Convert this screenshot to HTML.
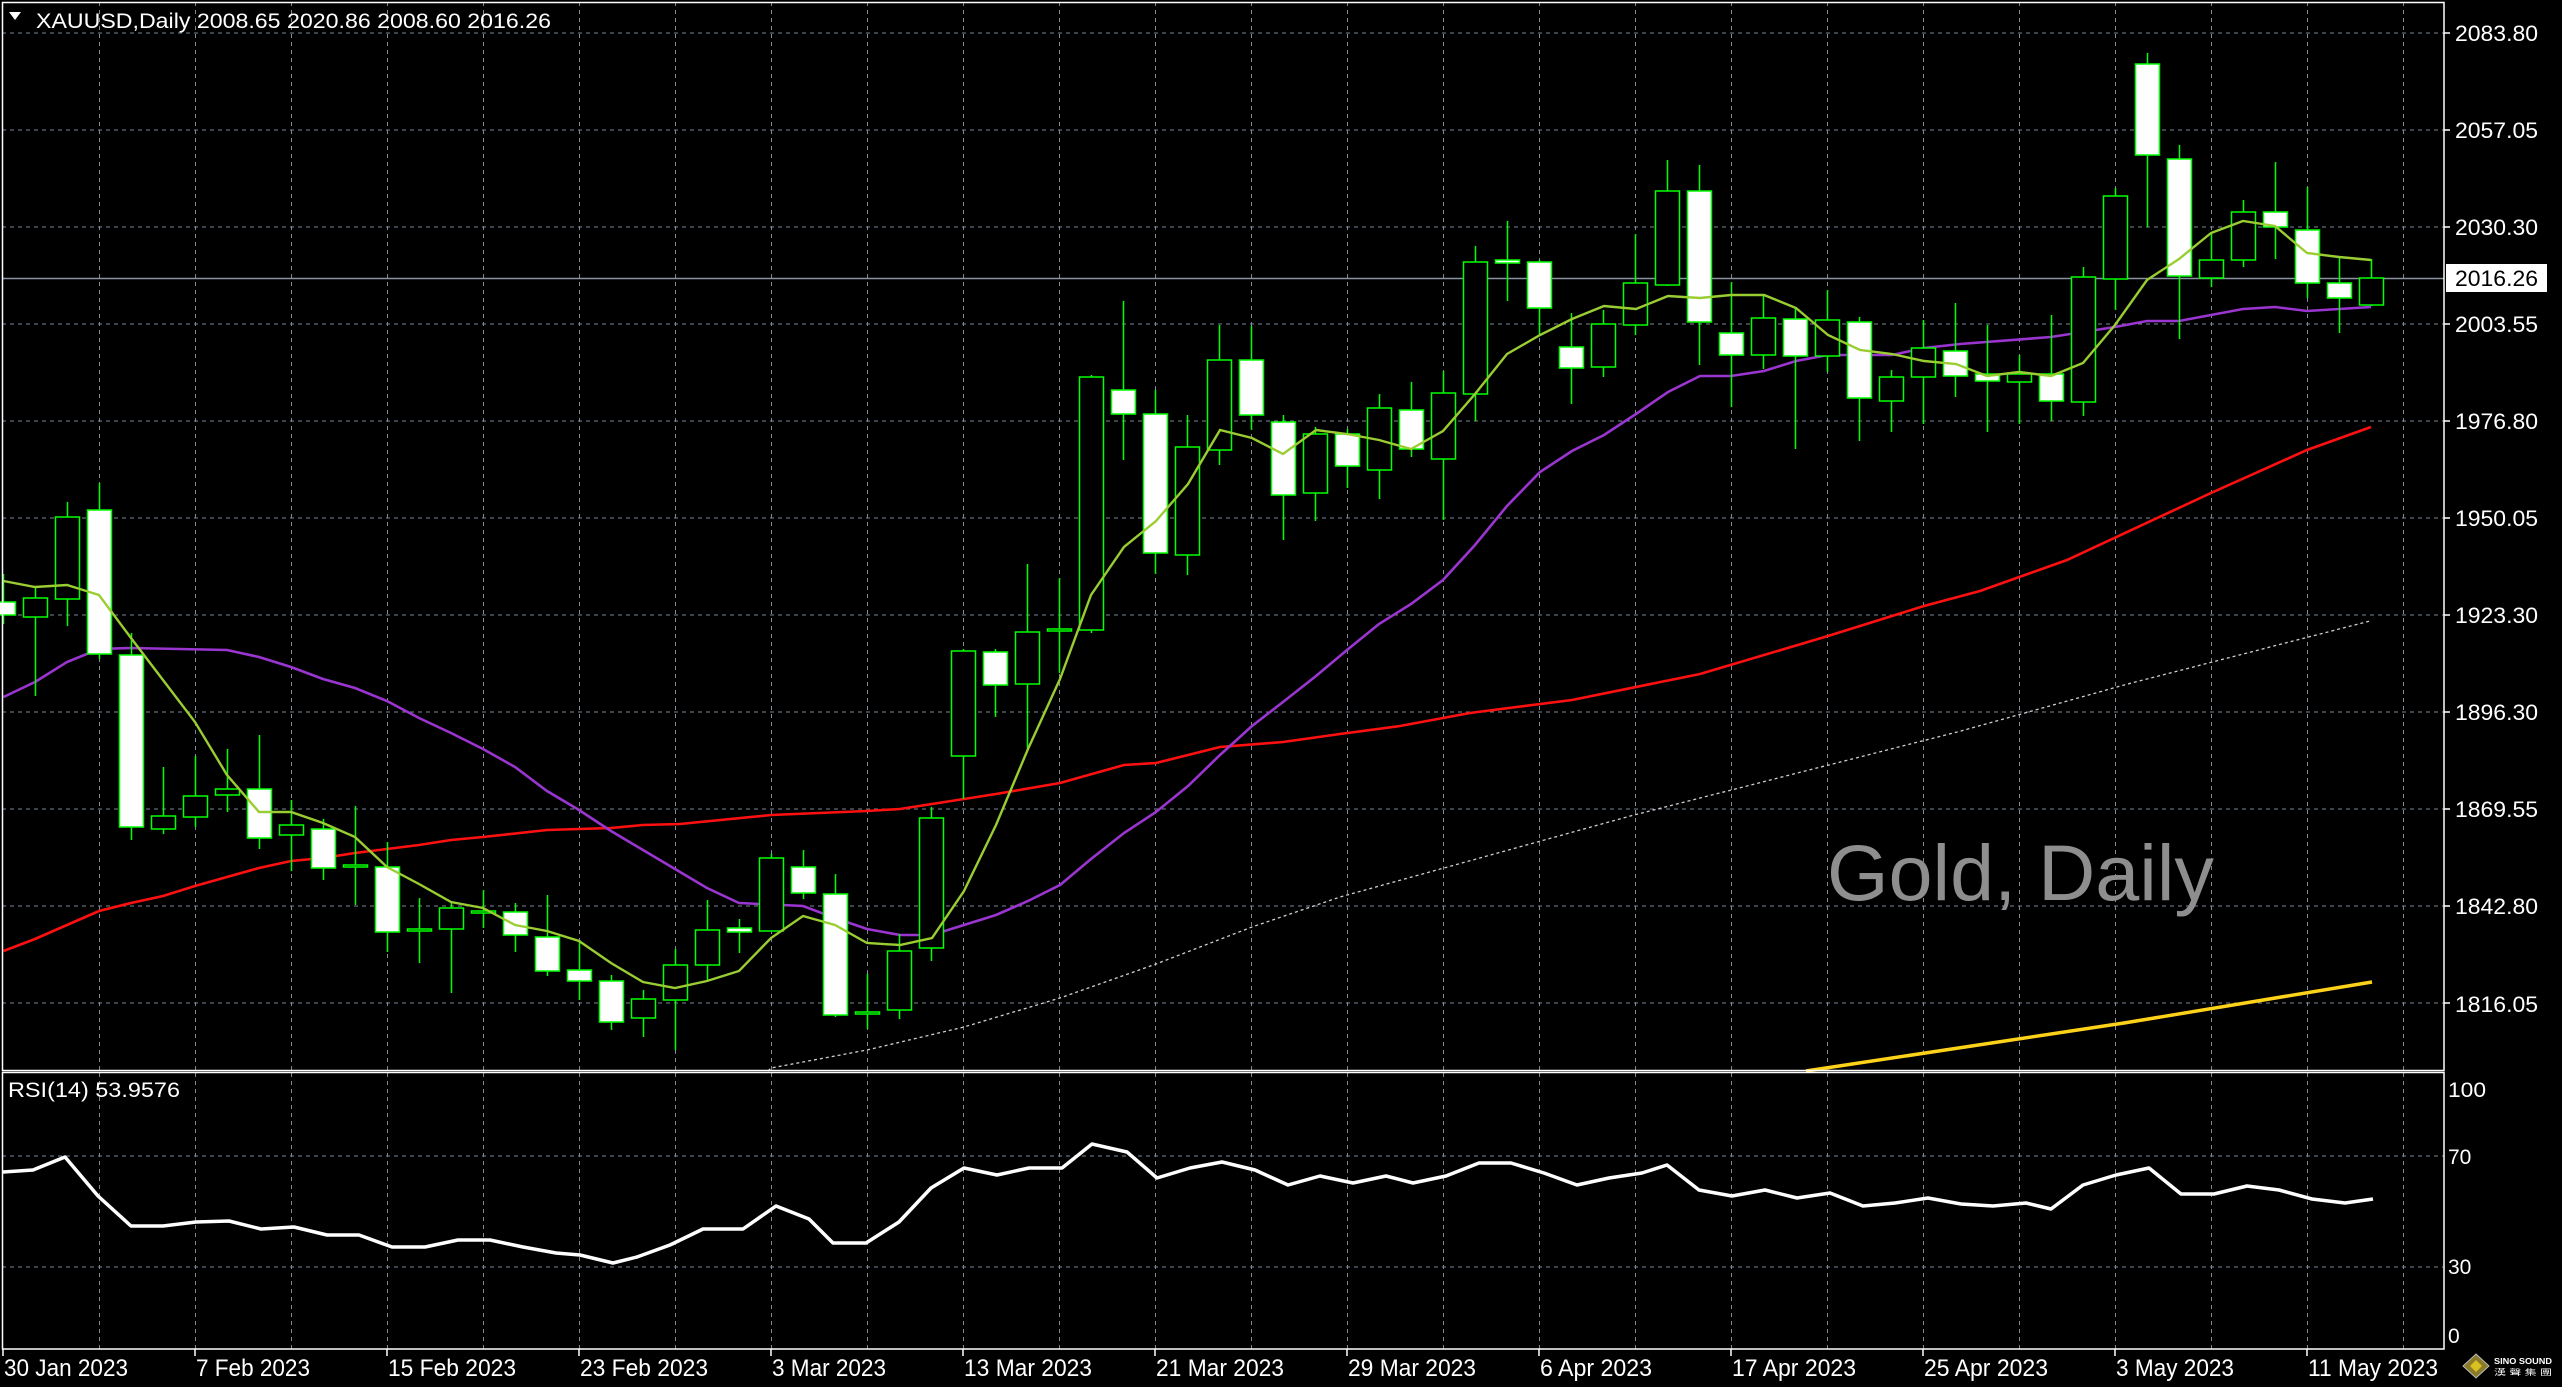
<!DOCTYPE html>
<html><head><meta charset="utf-8"><style>
html,body{margin:0;padding:0;background:#000;width:2562px;height:1387px;overflow:hidden}
svg{display:block}
text{font-family:"Liberation Sans",sans-serif;fill:#fff}
</style></head><body>
<svg width="2562" height="1387" viewBox="0 0 2562 1387" xmlns="http://www.w3.org/2000/svg">
<rect width="2562" height="1387" fill="#000"/>
<!-- grids -->
<g stroke="#7d8796" stroke-width="1" stroke-dasharray="4,4">
<path d="M2 33H2444M2 130H2444M2 227H2444M2 324H2444M2 421H2444M2 518H2444M2 615H2444M2 712H2444M2 809H2444M2 906H2444M2 1003H2444M2 1156H2444M2 1267H2444"/>
<path d="M99.5 2V1071M195.5 2V1071M291.5 2V1071M387.5 2V1071M483.5 2V1071M579.5 2V1071M675.5 2V1071M771.5 2V1071M867.5 2V1071M963.5 2V1071M1059.5 2V1071M1155.5 2V1071M1251.5 2V1071M1347.5 2V1071M1443.5 2V1071M1539.5 2V1071M1635.5 2V1071M1731.5 2V1071M1827.5 2V1071M1923.5 2V1071M2019.5 2V1071M2115.5 2V1071M2211.5 2V1071M2307.5 2V1071M2403.5 2V1071"/>
<path d="M99.5 1073V1349M195.5 1073V1349M291.5 1073V1349M387.5 1073V1349M483.5 1073V1349M579.5 1073V1349M675.5 1073V1349M771.5 1073V1349M867.5 1073V1349M963.5 1073V1349M1059.5 1073V1349M1155.5 1073V1349M1251.5 1073V1349M1347.5 1073V1349M1443.5 1073V1349M1539.5 1073V1349M1635.5 1073V1349M1731.5 1073V1349M1827.5 1073V1349M1923.5 1073V1349M2019.5 1073V1349M2115.5 1073V1349M2211.5 1073V1349M2307.5 1073V1349M2403.5 1073V1349"/>
</g>
<!-- watermark -->
<text x="1827" y="900" font-size="79" fill="#8e8e8e" style="fill:#8e8e8e" textLength="387" lengthAdjust="spacingAndGlyphs">Gold, Daily</text>
<!-- last price line -->
<path d="M2 278.5H2444" stroke="#8792a2" stroke-width="1.5"/>
<!-- gray dotted MA -->
<polyline fill="none" stroke="#cfcfcf" stroke-width="1.3" stroke-dasharray="3,3" points="768,1071 771,1068 867,1050 964,1027 1060,998 1156,964 1252,927 1340,897 1634,815 1961,731 2124,685 2370,621"/>
<!-- gold MA -->
<polyline fill="none" stroke="#ffd21a" stroke-width="3.5" points="1806,1071 2124,1023 2372,982"/>
<!-- red MA -->
<polyline fill="none" stroke="#ff1010" stroke-width="2.6" points="3.5,951 35,939 67,925 99,911 131,903 163,896 195,886 227,877 259,868 291,861 323,858 355,853 387,849 419,845 451,840 483,837 547,830 579,829 611,828 643,825 680,824 771,815 867,811 900,809 932,804 996,794 1060,783 1124,765 1156,763 1220,747 1283,742 1340,734 1400,726 1470,713 1572,700 1700,674 1828,636 1924,606 1980,591 2067,560 2211,493 2307,450 2371,427"/>
<!-- purple MA -->
<polyline fill="none" stroke="#9a35d0" stroke-width="2.6" points="3.5,697 35,682 67,662 99,649 131,648 227,650 259,657 291,667 323,679 355,688 387,701 419,718 451,733 483,749 515,767 547,791 579,810 611,831 643,850 675,869 707,888 739,903 803,906 835,918 867,929 900,935 932,935 964,925 996,915 1028,901 1060,885 1091,859 1124,833 1156,812 1188,786 1220,755 1252,726 1283,702 1316,676 1347,650 1379,624 1411,604 1443,580 1475,545 1507,506 1540,472 1572,451 1604,435 1636,414 1668,392 1700,376 1731,376 1764,371 1796,361 1828,355 1892,355 1924,348 1960,344 2051,337 2115,327 2147,321 2179,321 2243,309 2275,307 2307,311 2339,309 2371,307"/>
<!-- candles -->
<g stroke="#00ff00" stroke-width="1.5">
<path d="M3.5 574V624M35.5 588V696M67.5 502V626M99.5 483V659M131.5 633V840M163.5 767V834M195.5 756V827M227.5 749V812M259.5 735V849M291.5 800V871M323.5 819V880M355.5 806V905M387.5 842V952M419.5 898V963M451.5 902V993M483.5 890V928M515.5 903V952M547.5 895V976M579.5 940V1000M611.5 975V1030M643.5 990V1037M675.5 949V1050M707.5 900V981M739.5 919V953M771.5 854V931M803.5 850V899M835.5 874V1017M867.5 974V1029M899.5 934V1019M931.5 807V961M963.5 649V799M995.5 649V717M1027.5 564V749M1059.5 578V673M1091.5 375V633M1123.5 301V460M1155.5 390V574M1187.5 415V575M1219.5 325V465M1251.5 326V430M1283.5 415V540M1315.5 427V521M1347.5 429V488M1379.5 394V499M1411.5 382V457M1443.5 371V520M1475.5 246V421M1507.5 221V301M1539.5 260V335M1571.5 313V404M1603.5 310V377M1635.5 234V335M1667.5 160V286M1699.5 165V365M1731.5 282V407M1763.5 294V369M1795.5 308V449M1827.5 290V372M1859.5 317V441M1891.5 370V432M1923.5 320V424M1955.5 303V397M1987.5 325V432M2019.5 355V424M2051.5 315V421M2083.5 267V416M2115.5 188V310M2147.5 53V227M2179.5 145V339M2211.5 232V287M2243.5 200V267M2275.5 162V259M2307.5 187V298M2339.5 257V333M2371.5 259V306"/>
<g fill="#000">
<rect x="23.5" y="598" width="24" height="19"/>
<rect x="55.5" y="517" width="24" height="82"/>
<rect x="151.5" y="816" width="24" height="13"/>
<rect x="183.5" y="796" width="24" height="21"/>
<rect x="215.5" y="789" width="24" height="6"/>
<rect x="279.5" y="825" width="24" height="10"/>
<rect x="343.5" y="865" width="24" height="2"/>
<rect x="407.5" y="929" width="24" height="2"/>
<rect x="439.5" y="908" width="24" height="21"/>
<rect x="471.5" y="911" width="24" height="2"/>
<rect x="631.5" y="999" width="24" height="19"/>
<rect x="663.5" y="965" width="24" height="35"/>
<rect x="695.5" y="930" width="24" height="35"/>
<rect x="759.5" y="858" width="24" height="73"/>
<rect x="855.5" y="1012" width="24" height="2"/>
<rect x="887.5" y="951" width="24" height="59"/>
<rect x="919.5" y="818" width="24" height="130"/>
<rect x="951.5" y="651" width="24" height="105"/>
<rect x="1015.5" y="632" width="24" height="52"/>
<rect x="1047.5" y="629" width="24" height="2"/>
<rect x="1079.5" y="377" width="24" height="253"/>
<rect x="1175.5" y="447" width="24" height="108"/>
<rect x="1207.5" y="360" width="24" height="90"/>
<rect x="1303.5" y="434" width="24" height="59"/>
<rect x="1367.5" y="408" width="24" height="62"/>
<rect x="1431.5" y="393" width="24" height="66"/>
<rect x="1463.5" y="262" width="24" height="132"/>
<rect x="1591.5" y="324" width="24" height="43"/>
<rect x="1623.5" y="283" width="24" height="42"/>
<rect x="1655.5" y="191" width="24" height="94"/>
<rect x="1751.5" y="318" width="24" height="37"/>
<rect x="1815.5" y="320" width="24" height="36"/>
<rect x="1879.5" y="377" width="24" height="24"/>
<rect x="1911.5" y="348" width="24" height="29"/>
<rect x="2007.5" y="374" width="24" height="8"/>
<rect x="2071.5" y="277" width="24" height="125"/>
<rect x="2103.5" y="196" width="24" height="83"/>
<rect x="2199.5" y="260" width="24" height="18"/>
<rect x="2231.5" y="212" width="24" height="48"/>
<rect x="2359.5" y="278" width="24" height="27"/>
</g>
<g fill="#fff">
<rect x="-8.5" y="602" width="24" height="13"/>
<rect x="87.5" y="510" width="24" height="144"/>
<rect x="119.5" y="655" width="24" height="172"/>
<rect x="247.5" y="789" width="24" height="49"/>
<rect x="311.5" y="829" width="24" height="39"/>
<rect x="375.5" y="867" width="24" height="65"/>
<rect x="503.5" y="912" width="24" height="23"/>
<rect x="535.5" y="937" width="24" height="34"/>
<rect x="567.5" y="970" width="24" height="11"/>
<rect x="599.5" y="981" width="24" height="41"/>
<rect x="727.5" y="928" width="24" height="4"/>
<rect x="791.5" y="867" width="24" height="26"/>
<rect x="823.5" y="894" width="24" height="121"/>
<rect x="983.5" y="652" width="24" height="33"/>
<rect x="1111.5" y="390" width="24" height="24"/>
<rect x="1143.5" y="414" width="24" height="139"/>
<rect x="1239.5" y="360" width="24" height="55"/>
<rect x="1271.5" y="422" width="24" height="73"/>
<rect x="1335.5" y="434" width="24" height="32"/>
<rect x="1399.5" y="410" width="24" height="39"/>
<rect x="1495.5" y="260" width="24" height="3"/>
<rect x="1527.5" y="262" width="24" height="46"/>
<rect x="1559.5" y="347" width="24" height="21"/>
<rect x="1687.5" y="191" width="24" height="131"/>
<rect x="1719.5" y="333" width="24" height="22"/>
<rect x="1783.5" y="319" width="24" height="37"/>
<rect x="1847.5" y="322" width="24" height="76"/>
<rect x="1943.5" y="351" width="24" height="25"/>
<rect x="1975.5" y="374" width="24" height="7"/>
<rect x="2039.5" y="374" width="24" height="27"/>
<rect x="2135.5" y="64" width="24" height="91"/>
<rect x="2167.5" y="159" width="24" height="117"/>
<rect x="2263.5" y="212" width="24" height="15"/>
<rect x="2295.5" y="230" width="24" height="53"/>
<rect x="2327.5" y="283" width="24" height="15"/>
</g>
</g>
<!-- yellow-green MA -->
<polyline fill="none" stroke="#9acd32" stroke-width="2.4" points="3.5,581 35,587 67,585 99,595 131,638 163,680 195,722 227,775 259,812 291,812 323,823 355,837 387,867 419,884 451,902 483,908 515,925 547,931 579,941 611,963 643,982 675,988 707,981 739,971 771,938 803,916 835,925 867,943 900,945 932,938 964,891 996,825 1028,749 1060,679 1091,595 1124,547 1156,521 1188,484 1220,430 1252,438 1283,454 1316,430 1347,434 1379,440 1411,449 1443,431 1475,394 1507,354 1540,335 1572,319 1604,306 1636,309 1668,296 1700,298 1731,295 1764,295 1796,308 1828,335 1860,350 1892,354 1924,361 1956,364 1987,376 2019,372 2051,376 2083,363 2115,325 2147,280 2179,259 2211,233 2243,221 2275,226 2307,253 2339,257 2371,260"/>
<!-- RSI -->
<polyline fill="none" stroke="#fff" stroke-width="3.5" stroke-linejoin="round" points="3,1172 33,1170 65,1157 98,1196 131,1226 163,1226 196,1222 229,1221 261,1229 294,1227 327,1235 359,1235 392,1247 425,1247 458,1240 490,1240 523,1247 556,1253 580,1255 613,1263 637,1257 670,1245 703,1229 743,1229 776,1206 809,1219 833,1243 866,1243 899,1222 931,1188 964,1168 997,1175 1029,1168 1062,1168 1092,1144 1127,1152 1157,1178 1190,1168 1222,1162 1255,1170 1288,1185 1320,1176 1353,1183 1386,1176 1413,1183 1446,1176 1479,1163 1511,1163 1544,1173 1577,1185 1609,1178 1642,1173 1667,1165 1699,1190 1732,1196 1765,1190 1797,1198 1830,1193 1863,1206 1895,1203 1928,1198 1961,1204 1993,1206 2026,1203 2051,1209 2083,1185 2116,1175 2149,1168 2181,1194 2214,1194 2247,1186 2279,1190 2312,1199 2345,1203 2373,1199"/>
<!-- frames -->
<g fill="none" stroke="#fff" stroke-width="1.5">
<rect x="2.5" y="2.5" width="2441.5" height="1068"/>
<rect x="2.5" y="1072.5" width="2441.5" height="276.5"/>
</g>
<g stroke="#fff" stroke-width="1.5">
<path d="M2444 33h6M2444 130h6M2444 227h6M2444 324h6M2444 421h6M2444 518h6M2444 615h6M2444 712h6M2444 809h6M2444 906h6M2444 1003h6"/>
<path d="M3 1349v7M195 1349v7M387 1349v7M579 1349v7M771 1349v7M963 1349v7M1155 1349v7M1347 1349v7M1539 1349v7M1731 1349v7M1923 1349v7M2115 1349v7M2307 1349v7"/>
</g>
<!-- title -->
<path d="M9 12L21 12L15 20Z" fill="#fff"/>
<text x="36" y="28" font-size="21" textLength="515" lengthAdjust="spacingAndGlyphs">XAUUSD,Daily  2008.65 2020.86 2008.60 2016.26</text>
<text x="8" y="1097" font-size="21" textLength="172" lengthAdjust="spacingAndGlyphs">RSI(14) 53.9576</text>
<!-- price labels -->
<g font-size="22">
<text x="2455" y="41" textLength="83" lengthAdjust="spacingAndGlyphs">2083.80</text>
<text x="2455" y="138" textLength="83" lengthAdjust="spacingAndGlyphs">2057.05</text>
<text x="2455" y="235" textLength="83" lengthAdjust="spacingAndGlyphs">2030.30</text>
<text x="2455" y="332" textLength="83" lengthAdjust="spacingAndGlyphs">2003.55</text>
<text x="2455" y="429" textLength="83" lengthAdjust="spacingAndGlyphs">1976.80</text>
<text x="2455" y="526" textLength="83" lengthAdjust="spacingAndGlyphs">1950.05</text>
<text x="2455" y="623" textLength="83" lengthAdjust="spacingAndGlyphs">1923.30</text>
<text x="2455" y="720" textLength="83" lengthAdjust="spacingAndGlyphs">1896.30</text>
<text x="2455" y="817" textLength="83" lengthAdjust="spacingAndGlyphs">1869.55</text>
<text x="2455" y="914" textLength="83" lengthAdjust="spacingAndGlyphs">1842.80</text>
<text x="2455" y="1012" textLength="83" lengthAdjust="spacingAndGlyphs">1816.05</text>
</g>
<rect x="2446" y="264" width="101" height="28" fill="#fff"/>
<text x="2455" y="286" font-size="22" style="fill:#000" textLength="83" lengthAdjust="spacingAndGlyphs">2016.26</text>
<!-- RSI labels -->
<g font-size="21">
<text x="2448" y="1097" textLength="38" lengthAdjust="spacingAndGlyphs">100</text>
<text x="2448" y="1164">70</text>
<text x="2448" y="1274">30</text>
<text x="2448" y="1343">0</text>
</g>
<!-- date labels -->
<g font-size="24">
<text x="4" y="1376" textLength="124" lengthAdjust="spacingAndGlyphs">30 Jan 2023</text>
<text x="196" y="1376" textLength="114" lengthAdjust="spacingAndGlyphs">7 Feb 2023</text>
<text x="388" y="1376" textLength="128" lengthAdjust="spacingAndGlyphs">15 Feb 2023</text>
<text x="580" y="1376" textLength="128" lengthAdjust="spacingAndGlyphs">23 Feb 2023</text>
<text x="772" y="1376" textLength="114" lengthAdjust="spacingAndGlyphs">3 Mar 2023</text>
<text x="964" y="1376" textLength="128" lengthAdjust="spacingAndGlyphs">13 Mar 2023</text>
<text x="1156" y="1376" textLength="128" lengthAdjust="spacingAndGlyphs">21 Mar 2023</text>
<text x="1348" y="1376" textLength="128" lengthAdjust="spacingAndGlyphs">29 Mar 2023</text>
<text x="1540" y="1376" textLength="112" lengthAdjust="spacingAndGlyphs">6 Apr 2023</text>
<text x="1732" y="1376" textLength="124" lengthAdjust="spacingAndGlyphs">17 Apr 2023</text>
<text x="1924" y="1376" textLength="124" lengthAdjust="spacingAndGlyphs">25 Apr 2023</text>
<text x="2116" y="1376" textLength="118" lengthAdjust="spacingAndGlyphs">3 May 2023</text>
<text x="2308" y="1376" textLength="130" lengthAdjust="spacingAndGlyphs">11 May 2023</text>
</g>
<!-- logo -->
<polygon points="2476,1354 2489,1366 2476,1378 2463,1366" fill="#8a7a2a" stroke="#bbb" stroke-width="1"/>
<polygon points="2476,1360 2482,1366 2476,1372 2470,1366" fill="#d8c020"/>
<text x="2494" y="1364" font-size="8" font-weight="bold" textLength="58" lengthAdjust="spacingAndGlyphs">SINO SOUND</text>
<text x="2494" y="1375" font-size="8" style="font-family:'Liberation Sans','Noto Sans CJK TC',sans-serif" textLength="58" lengthAdjust="spacingAndGlyphs">漢 聲 集 團</text>
</svg>
</body></html>
